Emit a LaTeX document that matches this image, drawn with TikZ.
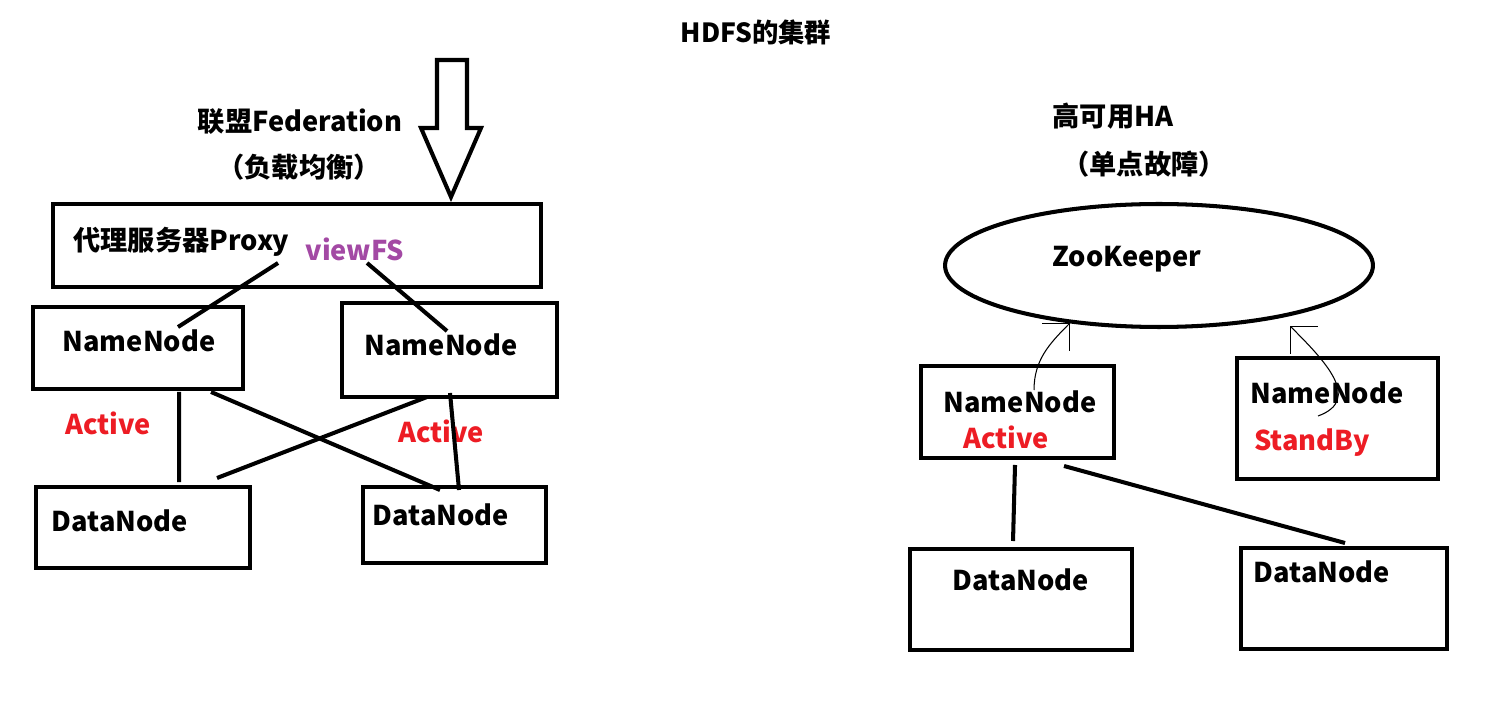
\documentclass[tikz,border=0pt]{standalone}
\usepackage{fontspec}
\setmainfont{Noto Sans CJK SC}
\usetikzlibrary{calc,shapes.geometric,arrows.meta}
\definecolor{actred}{RGB}{237,28,36}
\definecolor{vfspurple}{RGB}{163,73,164}

\begin{document}
\begin{tikzpicture}[x=0.02cm, y=-0.02cm,
    box/.style={draw, rectangle, line width=2.3pt, outer sep=0pt, inner sep=0pt},
    lbl/.style={inner sep=0pt, font=\fontsize{15.5}{19}\selectfont\bfseries},
    act/.style={lbl, text=actred},
    link/.style={line width=2.3pt},
    pointer/.style={line width=0.6pt, ->},
    >={Straight Barb[length=11pt,width=22pt]}]
    \useasboundingbox (0,0) rectangle (1509,719);

    % Title
    \node (title) [lbl, font=\fontsize{15}{18}\selectfont\bfseries] at (756,32) {HDFS的集群};

    % Federation side
    \node (fed) [lbl] at (300,122) {联盟Federation};
    \node (balance) [lbl] at (299,167) {（负载均衡）};
    \draw[line width=2.3pt] (437,60) -- (467,60) -- (467,128) -- (481,128)
        -- (451,197) -- (421,128) -- (437,128) -- cycle;

    \node (proxy) [box, minimum width=9.76cm, minimum height=1.66cm] at (297,245.5) {};
    \node (proxyt) [lbl, anchor=west] at (73,242) {代理服务器Proxy};
    \node (viewfs) [lbl, text=vfspurple] at (355,249) {viewFS};

    \node (nn1) [box, minimum width=4.2cm, minimum height=1.64cm] at (138,348) {};
    \node (nn1t) [lbl] at (139,341) {NameNode};
    \node (nn2) [box, minimum width=4.3cm, minimum height=1.88cm] at (449.5,350) {};
    \node (nn2t) [lbl] at (441,345) {NameNode};
    \node (act1) [act] at (108,423) {Active};
    \node (act2) [act] at (441,431) {Active};

    \node (dn1) [box, minimum width=4.28cm, minimum height=1.62cm] at (143,527.5) {};
    \node (dn1t) [lbl] at (120,521) {DataNode};
    \node (dn2) [box, minimum width=3.66cm, minimum height=1.52cm] at (454.5,525) {};
    \node (dn2t) [lbl] at (441,515) {DataNode};

    % HA side
    \node (ha) [lbl] at (1113,116) {高可用HA};
    \node (spof) [lbl] at (1144,164) {（单点故障）};

    \node (zk) [draw, ellipse, line width=2.3pt, outer sep=0pt, inner sep=0pt,
        minimum width=8.56cm, minimum height=2.46cm] at (1159,265.5) {};
    \node (zkt) [lbl] at (1127,259) {ZooKeeper};

    \node (nn3) [box, minimum width=3.86cm, minimum height=1.84cm] at (1017.5,412) {};
    \node (nn3t) [lbl] at (1020,402) {NameNode};
    \node (act3) [act] at (1006,437) {Active};
    \node (nn4) [box, minimum width=4.02cm, minimum height=2.42cm] at (1337.5,418.5) {};
    \node (nn4t) [lbl] at (1327,393) {NameNode};
    \node (standby) [act] at (1312,443) {StandBy};

    \node (dn3) [box, minimum width=4.44cm, minimum height=2.02cm] at (1021,599.5) {};
    \node (dn3t) [lbl] at (1021,580) {DataNode};
    \node (dn4) [box, minimum width=4.12cm, minimum height=2.02cm] at (1344,598.5) {};
    \node (dn4t) [lbl] at (1322,572) {DataNode};

    % Lines
    \draw[link] ($(proxy.south west)+(225,-24)$) -- ($(nn1.north west)+(145,20)$);
    \draw[link] ($(proxy.south west)+(314,-24)$) -- ($(nn2.north west)+(105,28)$);
    \draw[link] ($(nn1.south west)+(146,3)$) -- ($(dn1.north west)+(143,-5)$);
    \draw[link] ($(nn1.south west)+(178,3)$) -- ($(dn2.north west)+(77,3)$);
    \draw[link] ($(nn2.south west)+(85,0)$) -- ($(dn1.north west)+(181,-9)$);
    \draw[link] ($(nn2.south west)+(108,-4)$) -- ($(dn2.north west)+(96,3)$);
    \draw[link] ($(nn3.south west)+(94,7)$) -- ($(dn3.north west)+(103,-8)$);
    \draw[link] ($(nn3.south west)+(143,8)$) -- ($(dn4.north west)+(104,-5)$);

    % Arrows
    \draw[pointer] ($(nn3.north west)+(113,24)$) to[out=90, in=225] ($(zk.south)+(-89,-4)$);
    \draw[pointer] ($(nn4.north west)+(81,58)$) to[out=20, in=-45, looseness=1.3] ($(zk.south)+(131,-1)$);
\end{tikzpicture}
\end{document}
